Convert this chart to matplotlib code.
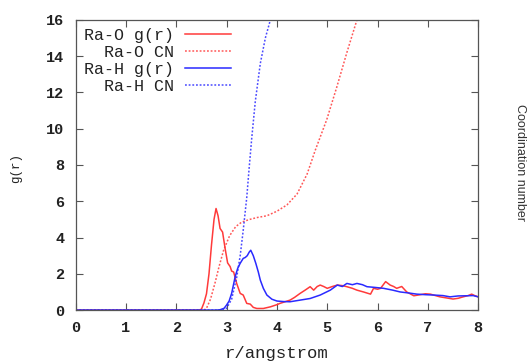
import matplotlib
matplotlib.use("Agg")
import matplotlib.pyplot as plt

# Ra-O radial distribution function
r_rao = [0, 2.45, 2.5, 2.55, 2.6, 2.65, 2.7, 2.75, 2.79, 2.83, 2.87, 2.92, 2.97,
         3.02, 3.07, 3.1, 3.14, 3.2, 3.27, 3.33, 3.4, 3.47, 3.53, 3.6, 3.73, 3.87,
         4.0, 4.06, 4.15, 4.26, 4.35, 4.46, 4.56, 4.66, 4.73, 4.8, 4.86, 4.93, 5.0,
         5.1, 5.2, 5.3, 5.39, 5.5, 5.59, 5.72, 5.86, 5.92, 6.0, 6.06, 6.1, 6.16,
         6.25, 6.32, 6.38, 6.48, 6.58, 6.72, 6.85, 6.95, 7.05, 7.15, 7.24, 7.35,
         7.5, 7.6, 7.7, 7.8, 7.87, 7.93, 8.0]
g_rao = [0, 0, 0.05, 0.4, 0.9, 2.0, 3.6, 5.0, 5.6, 5.2, 4.5, 4.3, 3.4,
         2.6, 2.4, 2.15, 2.1, 1.47, 0.92, 0.83, 0.37, 0.33, 0.15, 0.09, 0.09, 0.18,
         0.3, 0.37, 0.45, 0.55, 0.7, 0.92, 1.1, 1.29, 1.1, 1.3, 1.38, 1.3, 1.2,
         1.3, 1.38, 1.35, 1.29, 1.2, 1.1, 1.0, 0.88, 1.2, 1.15, 1.2, 1.35, 1.57,
         1.38, 1.3, 1.2, 1.3, 1.0, 0.79, 0.85, 0.9, 0.88, 0.8, 0.73, 0.68,
         0.61, 0.65, 0.73, 0.8, 0.88, 0.8, 0.73]

# Ra-O coordination number
r_rao_cn = [0, 2.55, 2.6, 2.68, 2.77, 2.85, 2.94, 3.06, 3.18, 3.3, 3.46, 3.6,
            3.8, 4.0, 4.2, 4.4, 4.6, 4.76, 4.99, 5.19, 5.39, 5.59, 5.65]
cn_rao = [0, 0, 0.1, 0.6, 1.5, 2.4, 3.3, 4.1, 4.6, 4.85, 5.0, 5.1,
          5.2, 5.45, 5.8, 6.4, 7.5, 8.8, 10.5, 12.3, 14.2, 16.0, 16.5]

# Ra-H radial distribution function
r_rah = [0, 2.8, 2.87, 2.95, 3.0, 3.05, 3.1, 3.17, 3.22, 3.27, 3.33, 3.37, 3.41,
         3.45, 3.48, 3.53, 3.58, 3.63, 3.67, 3.73, 3.8, 3.9, 4.0, 4.13, 4.26,
         4.46, 4.66, 4.86, 5.06, 5.2, 5.3, 5.39, 5.5, 5.59, 5.7, 5.79, 5.95,
         6.12, 6.3, 6.45, 6.6, 6.78, 6.95, 7.11, 7.3, 7.44, 7.6, 7.77, 7.9, 8.0]
g_rah = [0, 0, 0.02, 0.1, 0.28, 0.5, 0.92, 1.84, 2.3, 2.58, 2.85, 2.9, 3.0,
         3.2, 3.3, 3.0, 2.58, 2.1, 1.65, 1.2, 0.83, 0.6, 0.5, 0.47, 0.46,
         0.55, 0.64, 0.83, 1.1, 1.38, 1.3, 1.47, 1.4, 1.47, 1.4, 1.29, 1.25,
         1.2, 1.1, 1.0, 0.95, 0.88, 0.85, 0.83, 0.8, 0.73, 0.78, 0.79, 0.8, 0.73]

# Ra-H coordination number
r_rah_cn = [0, 2.9, 3.0, 3.1, 3.2, 3.27, 3.33, 3.4, 3.45, 3.5, 3.57, 3.67,
            3.77, 3.87, 3.9]
cn_rah = [0, 0, 0.1, 0.6, 1.8, 3.0, 4.4, 6.2, 7.9, 9.5, 11.5, 13.6,
          15.0, 16.0, 16.3]

x_ticks = [0, 1, 2, 3, 4, 5, 6, 7, 8]
y_ticks = [0, 2, 4, 6, 8, 10, 12, 14, 16]

red = "#ff3a3a"
blue = "#2a2aff"
mono = "Liberation Mono"

fig = plt.figure(figsize=(5.29, 3.61), dpi=100)
ax = fig.add_axes([0.143, 0.141, 0.761, 0.804])

dots = (0, (1.2, 1.2))
ax.plot(r_rao, g_rao, color=red, lw=1.1, label="Ra-O g(r)")
ax.plot(r_rao_cn, cn_rao, color=red, lw=1.1, ls=dots, alpha=0.85, label="  Ra-O CN")
ax.plot(r_rah, g_rah, color=blue, lw=1.1, label="Ra-H g(r)")
ax.plot(r_rah_cn, cn_rah, color=blue, lw=1.1, ls=dots, alpha=0.85, label="  Ra-H CN")

ax.set_xlim(0, 8)
ax.set_ylim(0, 16)
ax.set_xticks(x_ticks)
ax.set_yticks(y_ticks)
ax.tick_params(direction="in", length=5, width=0.8, color="#555555",
               top=True, right=True, labelsize=11, pad=8)
for lab in ax.get_xticklabels() + ax.get_yticklabels():
    lab.set_fontfamily(mono)
    lab.set_fontweight("bold")
    lab.set_color("#222222")
for sp in ax.spines.values():
    sp.set_color("#555555")
    sp.set_linewidth(0.9)

ax.set_xlabel("r/angstrom", fontfamily=mono, fontsize=12.4, labelpad=8,
              color="#222222")
ax.set_ylabel("g(r)", fontfamily=mono, fontsize=9, color="#222222",
              va="center")
ax.yaxis.set_label_coords(-0.149, 0.49)

leg = ax.legend(loc="upper left", frameon=False, markerfirst=False,
                prop={"family": mono, "size": 12}, handlelength=2.8,
                labelspacing=0.12, borderaxespad=0.2, handletextpad=0.65,
                borderpad=0.3)
for t in leg.get_texts():
    t.set_color("#222222")

fig.text(0.983, 0.55, "Coordination number", rotation=-90, ha="center",
         va="center", fontfamily="Liberation Sans", fontsize=9, color="#333333")

fig.savefig("out.png", dpi=100)
